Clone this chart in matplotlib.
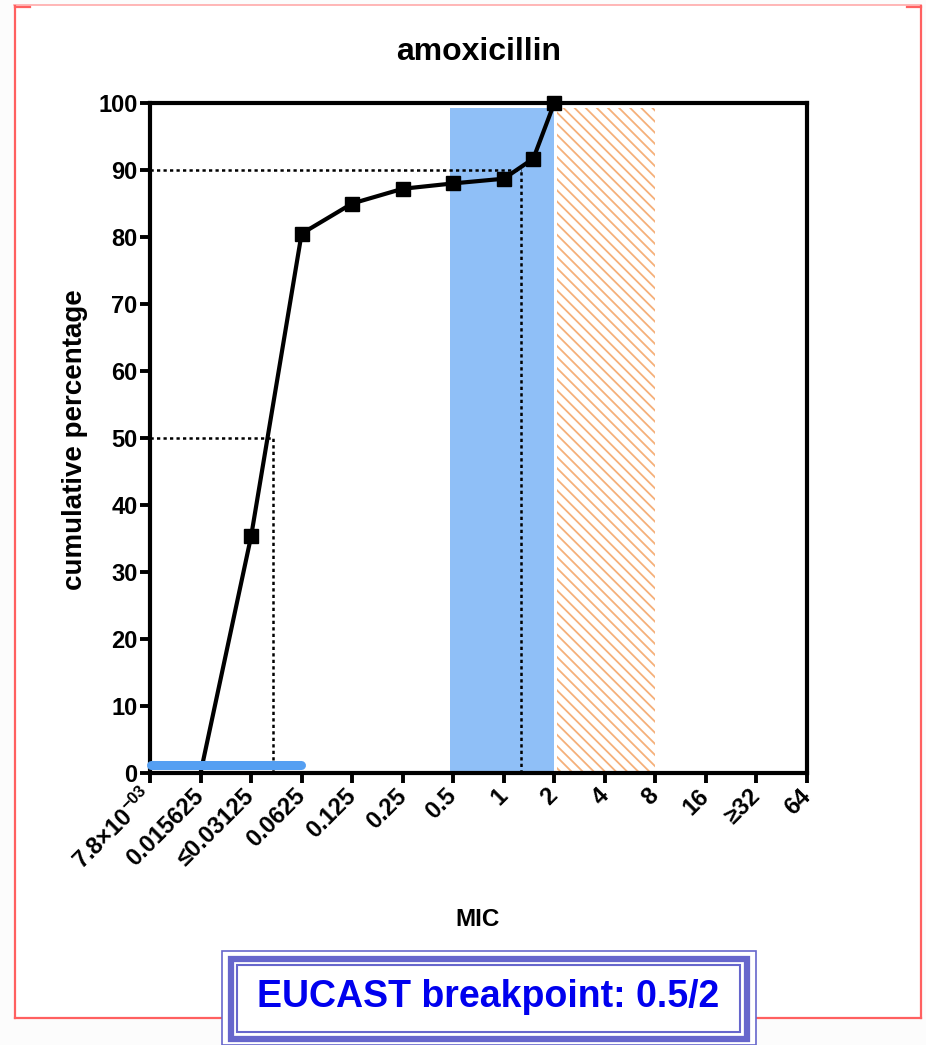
import matplotlib
matplotlib.use('Agg')
import matplotlib.pyplot as plt
from matplotlib.patches import Rectangle
from matplotlib.lines import Line2D

plt.rcParams['font.family'] = ['Liberation Sans', 'DejaVu Sans']
plt.rcParams['mathtext.fontset'] = 'custom'
plt.rcParams['mathtext.rm'] = 'Liberation Sans:bold'
plt.rcParams['mathtext.bf'] = 'Liberation Sans:bold'
plt.rcParams['mathtext.it'] = 'Liberation Sans:bold'
plt.rcParams['hatch.linewidth'] = 1.3

# ---- data ----
title = 'amoxicillin'
mic_ticks = [0.0078125, 0.015625, 0.03125, 0.0625, 0.125, 0.25, 0.5,
             1, 2, 4, 8, 16, 32, 64]
mic_labels = ['7.8×10$^{\\mathregular{-03}}$', '0.015625', '≤0.03125', '0.0625',
              '0.125', '0.25', '0.5', '1', '2', '4', '8', '16', '≥32', '64']
curve_mic = [0.015625, 0.03125, 0.0625, 0.125, 0.25, 0.5, 1, 1.5, 2]
curve_pct = [0, 35.3, 80.5, 85.0, 87.2, 88.0, 88.7, 91.7, 100]
mic50, mic90 = 0.042, 1.27
susceptible_range = (0.48, 2.0)
resistant_range = (2.07, 8.0)
span_top = 99.3
wt_range = (0.0079, 0.062)
wt_level = 1.2
yticks = list(range(0, 101, 10))
breakpoint_text = 'EUCAST breakpoint: 0.5/2'

W, H = 926, 1045
fig = plt.figure(figsize=(W / 100, H / 100), dpi=100, facecolor='#fcfcfc')


def fx(x):
    return x / W


def fy(y):
    return 1 - y / H


# background frame
fig.patches.append(Rectangle((fx(15), fy(1018)), fx(906), 1013 / H, transform=fig.transFigure,
                             facecolor='white', edgecolor='none', zorder=-5))
fig.lines.append(Line2D([fx(14), fx(921)], [fy(5), fy(5)], transform=fig.transFigure,
                        color='#ffaaaa', lw=1.2))
for xs, ys in [([fx(15), fx(15)], [fy(6), fy(1018)]),
               ([fx(921), fx(921)], [fy(6), fy(1018)]),
               ([fx(15), fx(921)], [fy(1018), fy(1018)]),
               ([fx(15), fx(30)], [fy(6.5), fy(6.5)]),
               ([fx(907), fx(921)], [fy(6.5), fy(6.5)])]:
    fig.lines.append(Line2D(xs, ys, transform=fig.transFigure, color='#ff6060', lw=1.6))

ax = fig.add_axes([fx(150), fy(773), 657 / W, 670 / H])
ax.set_facecolor('none')
ax.set_xscale('log', base=2)
ax.set_xlim(mic_ticks[0], mic_ticks[-1])
ax.set_ylim(0, 100)

ax.axvspan(*susceptible_range, ymax=span_top / 100, facecolor='#8fbff7', edgecolor='none', zorder=1)
ax.axvspan(*resistant_range, ymax=span_top / 100, facecolor='none', edgecolor='#f5b07a',
           hatch='\\\\\\', linewidth=0, zorder=1)

dash = dict(color='black', lw=1.8, dashes=(1.3, 1.3), zorder=2)
ax.plot([mic_ticks[0], mic90], [90, 90], **dash)
ax.plot([mic90, mic90], [0, 90], **dash)
ax.plot([mic_ticks[0], mic50], [50, 50], **dash)
ax.plot([mic50, mic50], [0, 50], **dash)

ax.plot(curve_mic, curve_pct, color='black', lw=3.0, zorder=3, clip_on=False)
ax.plot(curve_mic[1:], curve_pct[1:], ls='none', marker='s', ms=9.5, color='black',
        zorder=4, clip_on=False)

ax.plot(wt_range, [wt_level, wt_level], color='#559ff2', lw=6.5, solid_capstyle='round',
        zorder=5, clip_on=False)

for s in ax.spines.values():
    s.set_linewidth(3.0)
ax.set_xticks(mic_ticks)
ax.set_xticklabels(mic_labels)
ax.minorticks_off()
ax.set_yticks(yticks)
ax.tick_params(axis='both', direction='out', length=7, width=2.8, labelsize=17)
ax.tick_params(axis='y', pad=2)
ax.tick_params(axis='x', pad=7)
for lab in ax.get_yticklabels():
    lab.set_fontweight('bold')
for lab in ax.get_xticklabels():
    lab.set_fontweight('bold')
    lab.set_rotation(45)
    lab.set_ha('right')
    lab.set_va('center')
    lab.set_rotation_mode('anchor')

fig.text(fx(479), fy(52), title, ha='center', va='center', fontsize=23, fontweight='bold')
fig.text(fx(75), fy(440), 'cumulative percentage', ha='center', va='center', rotation=90,
         fontsize=20, fontweight='bold')
fig.text(fx(478), fy(920), 'MIC', ha='center', va='center', fontsize=17.5, fontweight='bold')

# EUCAST box
box_c = '#6666cc'
fig.patches.append(Rectangle((fx(222), fy(1045)), 534 / W, 94 / H, transform=fig.transFigure,
                             facecolor='white', edgecolor=box_c, lw=1.2, zorder=5))
fig.patches.append(Rectangle((fx(230.5), fy(1038.5)), 516 / W, 80 / H, transform=fig.transFigure,
                             facecolor='none', edgecolor=box_c, lw=4.5, zorder=6))
fig.patches.append(Rectangle((fx(237), fy(1032)), 503 / W, 67 / H, transform=fig.transFigure,
                             facecolor='none', edgecolor=box_c, lw=1.5, zorder=6))
fig.text(fx(488), fy(997), breakpoint_text, ha='center', va='center', fontsize=27,
         fontweight='bold', color='#0000ee', zorder=7)

fig.savefig('out.png', dpi=100, facecolor=fig.get_facecolor())
